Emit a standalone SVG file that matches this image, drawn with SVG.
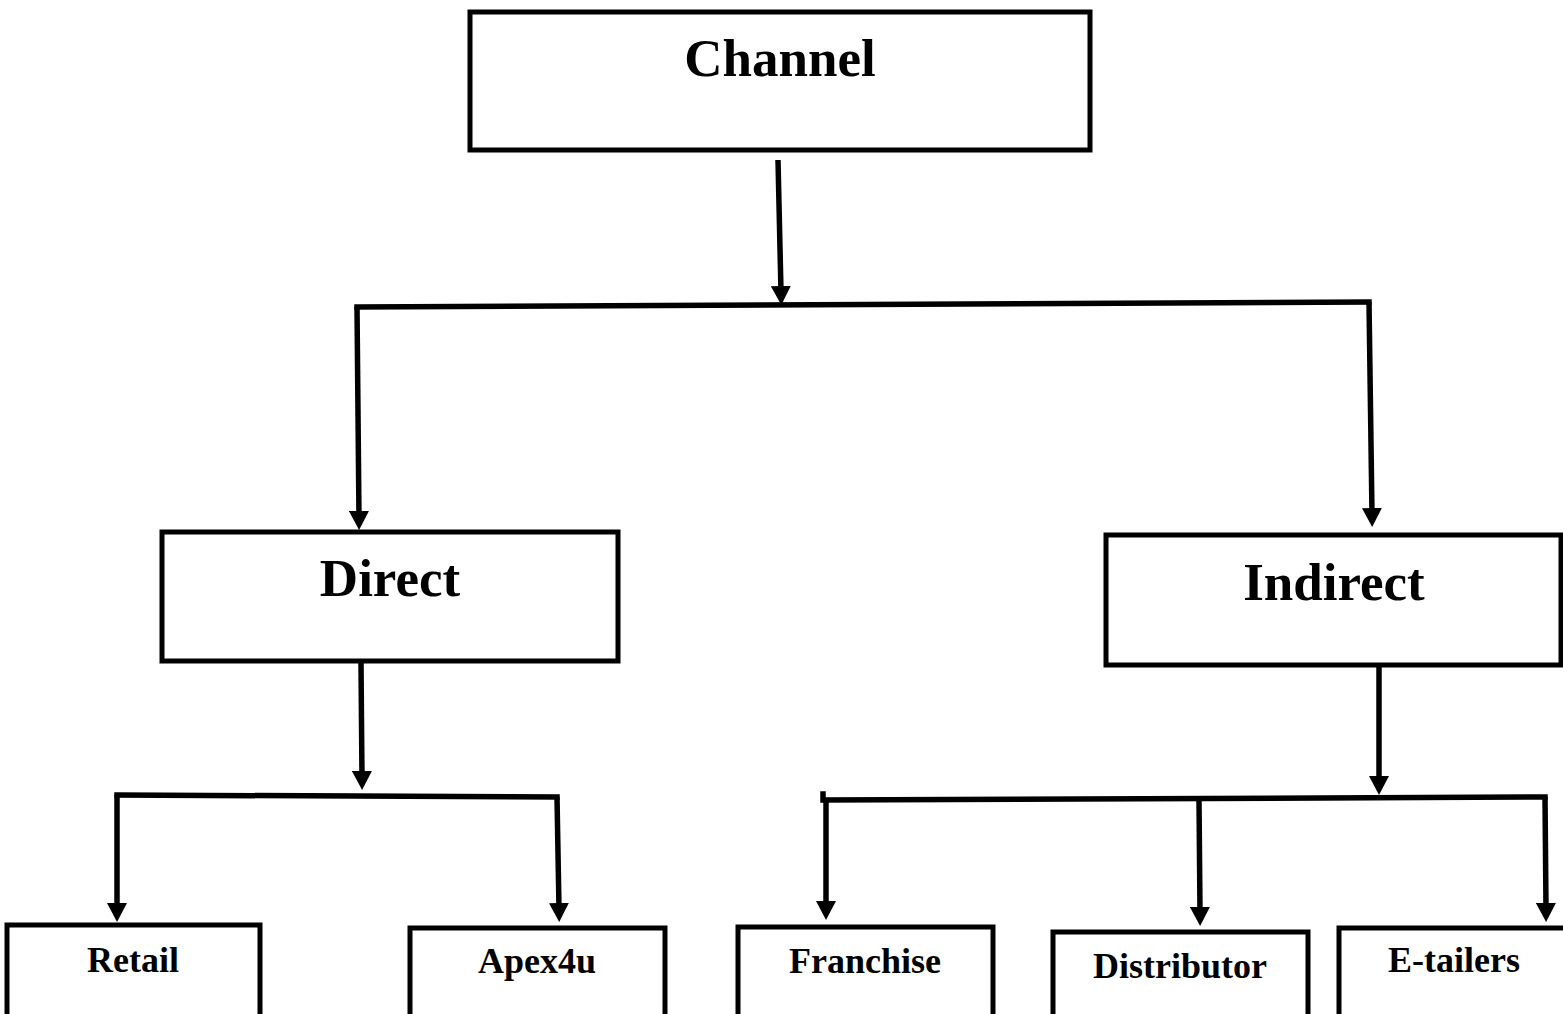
<svg xmlns="http://www.w3.org/2000/svg" width="1563" height="1014" viewBox="0 0 1563 1014">
<style>
.box{fill:#fff;stroke:#000;stroke-width:5}
.ln{fill:none;stroke:#000;stroke-width:5.5;stroke-linecap:square}
.arr{fill:none;stroke:#000;stroke-width:5.5;marker-end:url(#ah)}
text{font-family:"Liberation Serif","Times New Roman",serif;font-weight:bold;fill:#000;text-anchor:middle}
.big{font-size:53px}
.sm{font-size:36px}
</style>
<defs>
<marker id="ah" markerUnits="userSpaceOnUse" viewBox="0 0 19 20" refX="6" refY="10" markerWidth="19" markerHeight="20" orient="auto">
<path d="M0,0 L19,10 L0,20 z" fill="#000"/>
</marker>
</defs>
<g id="connectors">
<line class="arr" x1="778" y1="160" x2="781" y2="292"/>
<polyline class="ln" points="357,307 1369,302"/>
<line class="arr" x1="357" y1="307" x2="359" y2="517"/>
<line class="arr" x1="1369" y1="302" x2="1372" y2="514"/>
<line class="arr" x1="361" y1="663" x2="362" y2="777"/>
<polyline class="ln" points="117,795 557,797"/>
<line class="arr" x1="117" y1="795" x2="117" y2="909"/>
<line class="arr" x1="557" y1="797" x2="559" y2="909"/>
<line class="arr" x1="1379" y1="667" x2="1379" y2="782"/>
<polyline class="ln" points="823,794 823,800 1545,797"/>
<line class="arr" x1="826" y1="800" x2="826" y2="907"/>
<line class="arr" x1="1199" y1="799" x2="1200" y2="913"/>
<line class="arr" x1="1545" y1="797" x2="1546" y2="909"/>
</g>
<g id="channel">
<rect class="box" x="470" y="12" width="620" height="138"/>
<text class="big" x="780" y="76">Channel</text>
</g>
<g id="direct">
<rect class="box" x="162" y="532" width="456" height="129"/>
<text class="big" x="390" y="596">Direct</text>
</g>
<g id="indirect">
<rect class="box" x="1106" y="535" width="455" height="130"/>
<text class="big" x="1334" y="600">Indirect</text>
</g>
<g id="retail">
<rect class="box" x="7" y="925" width="253" height="110"/>
<text class="sm" x="133" y="972">Retail</text>
</g>
<g id="apex4u">
<rect class="box" x="410" y="928" width="255" height="110"/>
<text class="sm" x="537" y="973">Apex4u</text>
</g>
<g id="franchise">
<rect class="box" x="738" y="927" width="255" height="110"/>
<text class="sm" x="865" y="973">Franchise</text>
</g>
<g id="distributor">
<rect class="box" x="1053" y="932" width="255" height="110"/>
<text class="sm" x="1180" y="978">Distributor</text>
</g>
<g id="etailers">
<rect class="box" x="1339" y="928" width="240" height="110"/>
<text class="sm" x="1454" y="972">E-tailers</text>
</g>
</svg>
